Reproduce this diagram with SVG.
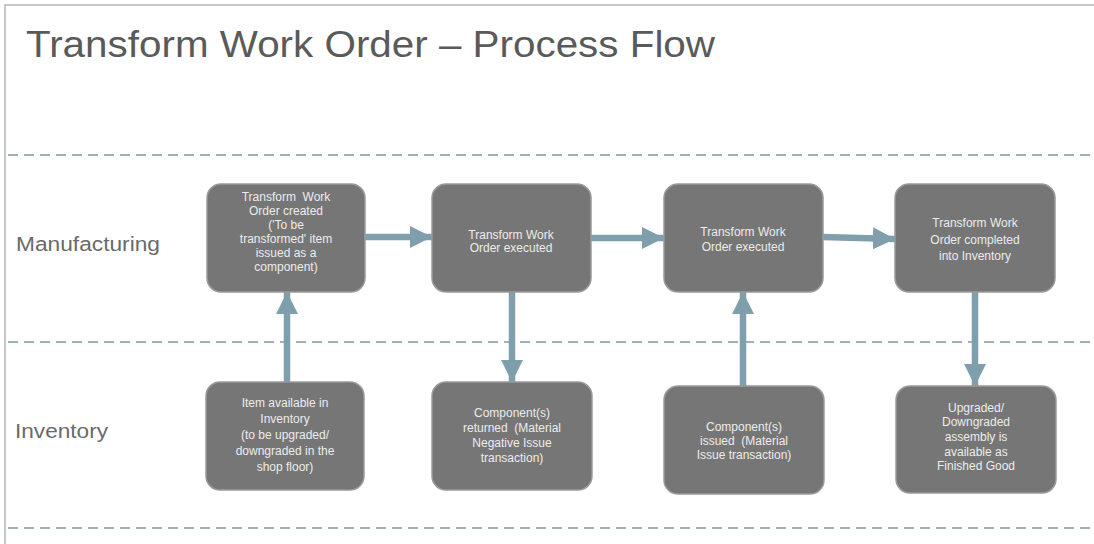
<svg xmlns="http://www.w3.org/2000/svg" width="1094" height="544" viewBox="0 0 1094 544">
<defs>
<style>
.frame{stroke:#c8c8c8;stroke-width:2;fill:none}
.lane{stroke:#9fb0b8;stroke-width:2;stroke-dasharray:10 6;fill:none}
.title{font-family:"Liberation Sans",Arial,sans-serif;font-size:37px;fill:#5a5a5a}
.lbl{font-family:"Liberation Sans",Arial,sans-serif;font-size:20px;fill:#6a6a6a}
.box{fill:#767676;stroke:#9a9a9a;stroke-width:1.5}
.nt{font-family:"Liberation Sans",Arial,sans-serif;font-size:12px;fill:#ececec;text-anchor:middle}
.conn{stroke:#809fac;stroke-width:6.5;fill:none}
</style>
<marker id="ah" viewBox="0 0 10 10" refX="10" refY="5" markerWidth="3.4" markerHeight="3.4" orient="auto" markerUnits="strokeWidth">
<path d="M0,0 L10,5 L0,10 Z" fill="#809fac"/>
</marker>
</defs>
<rect width="1094" height="544" fill="#ffffff"/>
<path class="frame" d="M5,544 V5 H1094"/>
<text class="title" x="26" y="57" textLength="689" lengthAdjust="spacingAndGlyphs">Transform Work Order – Process Flow</text>
<line class="lane" x1="8" y1="155" x2="1094" y2="155"/>
<line class="lane" x1="8" y1="342" x2="1094" y2="342"/>
<line class="lane" x1="8" y1="528" x2="1094" y2="528"/>
<text class="lbl" x="16" y="251" textLength="144" lengthAdjust="spacingAndGlyphs">Manufacturing</text>
<text class="lbl" x="15" y="438" textLength="93" lengthAdjust="spacingAndGlyphs">Inventory</text>

<g id="connectors">
<line class="conn" x1="365" y1="237" x2="432" y2="237" marker-end="url(#ah)"/>
<line class="conn" x1="591" y1="238" x2="664" y2="238" marker-end="url(#ah)"/>
<line class="conn" x1="823" y1="237" x2="895" y2="239" marker-end="url(#ah)"/>
<line class="conn" x1="287" y1="382" x2="287" y2="292" marker-end="url(#ah)"/>
<line class="conn" x1="512" y1="292" x2="512" y2="382" marker-end="url(#ah)"/>
<line class="conn" x1="743" y1="386" x2="743" y2="292" marker-end="url(#ah)"/>
<line class="conn" x1="975" y1="292" x2="975" y2="386" marker-end="url(#ah)"/>
</g>

<g id="n1">
<rect class="box" x="207" y="184" width="158" height="108" rx="14"/>
<text class="nt" x="286" y="201">Transform&#160; Work</text>
<text class="nt" x="286" y="215">Order created</text>
<text class="nt" x="286" y="229">('To be</text>
<text class="nt" x="286" y="243">transformed' item</text>
<text class="nt" x="286" y="257">issued as a</text>
<text class="nt" x="286" y="271">component)</text>
</g>
<g id="n2">
<rect class="box" x="432" y="184" width="159" height="108" rx="14"/>
<text class="nt" x="511" y="239">Transform Work</text>
<text class="nt" x="511" y="252">Order executed</text>
</g>
<g id="n3">
<rect class="box" x="664" y="184" width="159" height="108" rx="14"/>
<text class="nt" x="743" y="236">Transform Work</text>
<text class="nt" x="743" y="251">Order executed</text>
</g>
<g id="n4">
<rect class="box" x="895" y="184" width="160" height="108" rx="14"/>
<text class="nt" x="975" y="227">Transform Work</text>
<text class="nt" x="975" y="244">Order completed</text>
<text class="nt" x="975" y="260">into Inventory</text>
</g>
<g id="n5">
<rect class="box" x="206" y="382" width="158" height="108" rx="14"/>
<text class="nt" x="285" y="407">Item available in</text>
<text class="nt" x="285" y="423">Inventory</text>
<text class="nt" x="285" y="439">(to be upgraded/</text>
<text class="nt" x="285" y="455">downgraded in the</text>
<text class="nt" x="285" y="471">shop floor)</text>
</g>
<g id="n6">
<rect class="box" x="432" y="382" width="160" height="108" rx="14"/>
<text class="nt" x="512" y="417">Component(s)</text>
<text class="nt" x="512" y="432">returned&#160; (Material</text>
<text class="nt" x="512" y="447">Negative Issue</text>
<text class="nt" x="512" y="462">transaction)</text>
</g>
<g id="n7">
<rect class="box" x="664" y="386" width="160" height="108" rx="14"/>
<text class="nt" x="744" y="431">Component(s)</text>
<text class="nt" x="744" y="445">issued&#160; (Material</text>
<text class="nt" x="744" y="459">Issue transaction)</text>
</g>
<g id="n8">
<rect class="box" x="896" y="386" width="160" height="107" rx="14"/>
<text class="nt" x="976" y="412">Upgraded/</text>
<text class="nt" x="976" y="426">Downgraded</text>
<text class="nt" x="976" y="441">assembly is</text>
<text class="nt" x="976" y="456">available as</text>
<text class="nt" x="976" y="470">Finished Good</text>
</g>
</svg>
